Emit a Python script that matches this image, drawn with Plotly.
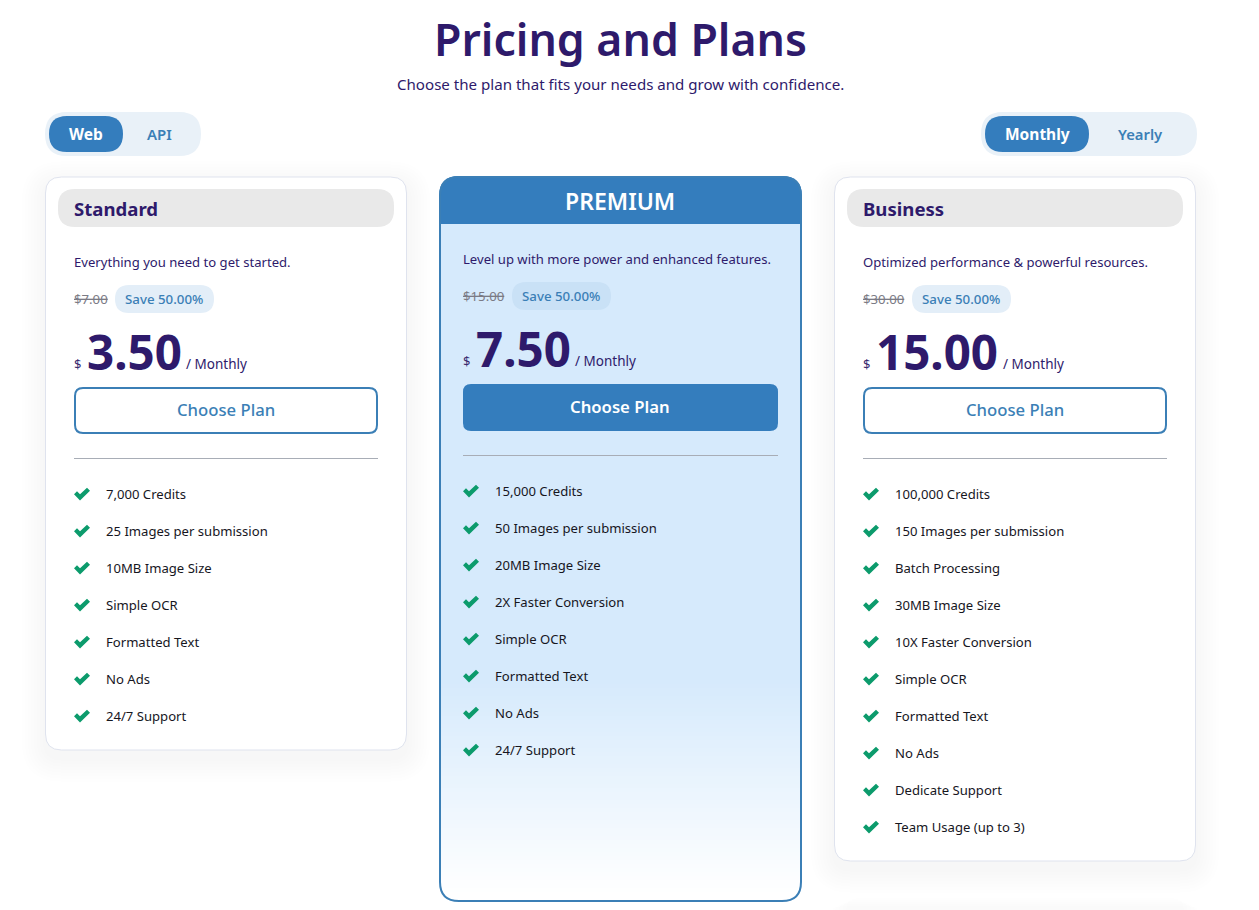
import plotly.graph_objects as go

plan_names = ["Standard", "PREMIUM", "Business"]
taglines = [
    "Everything you need to get started.",
    "Level up with more power and enhanced features.",
    "Optimized performance & powerful resources.",
]
old_prices = ["$7.00", "$15.00", "$30.00"]
prices = ["3.50", "7.50", "15.00"]
save_label = "Save 50.00%"
period_label = "/ Monthly"
button_label = "Choose Plan"
features_standard = ["7,000 Credits", "25 Images per submission", "10MB Image Size", "Simple OCR",
                     "Formatted Text", "No Ads", "24/7 Support"]
features_premium = ["15,000 Credits", "50 Images per submission", "20MB Image Size", "2X Faster Conversion",
                    "Simple OCR", "Formatted Text", "No Ads", "24/7 Support"]
features_business = ["100,000 Credits", "150 Images per submission", "Batch Processing", "30MB Image Size",
                     "10X Faster Conversion", "Simple OCR", "Formatted Text", "No Ads", "Dedicate Support",
                     "Team Usage (up to 3)"]

INK = "#2e1a6b"
BLUE = "#347dbd"
BLUE_TEXT = "#3b7fb6"
FONT = "Noto Sans"

shapes = []
notes = []


def rounded(x0, y0, x1, y1, r):
    return (f"M{x0+r},{y0} L{x1-r},{y0} Q{x1},{y0} {x1},{y0+r} L{x1},{y1-r} Q{x1},{y1} {x1-r},{y1} "
            f"L{x0+r},{y1} Q{x0},{y1} {x0},{y1-r} L{x0},{y0+r} Q{x0},{y0} {x0+r},{y0} Z")


def box(x0, y0, x1, y1, r, fill="rgba(0,0,0,0)", line=None, width=0):
    shapes.append(dict(type="path", path=rounded(x0, y0, x1, y1, r), fillcolor=fill,
                       line=dict(color=line or "rgba(0,0,0,0)", width=width), layer="below"))


def text(x, y, s, size, color=INK, weight=400, anchor="left"):
    notes.append(dict(x=x, y=y, text=s, showarrow=False, xanchor=anchor, yanchor="middle", borderpad=0,
                      borderwidth=0, font=dict(family=FONT, size=size, color=color, weight=weight)))


def shadow(x0, y0, x1, y1, r, alpha=0.002, drop=8):
    for k in range(8, 0, -1):
        g = k * 3
        box(x0 - g, y0 - g + drop, x1 + g, y1 + g + drop, r + g, fill=f"rgba(50,60,90,{alpha})")


def check(x, y):
    # check icon, 16 wide and 13 high, x is the left edge, y the middle
    pts = [(0, 6.2), (3, 3.2), (6, 6.2), (13, -0.2), (16, 2.8), (6, 12.6)]
    p = " L".join(f"{x+a},{y-6+b}" for a, b in pts)
    shapes.append(dict(type="path", path=f"M{p} Z", fillcolor="#0c9b6c", line=dict(width=0), layer="below"))


def plan_body(i, left, right, top, features, pill_fill, primary):
    # top is the y of the tagline row, the rest hangs off it
    text(left, top, taglines[i], 13.1, INK)
    text(left, top + 37, f"<s>{old_prices[i]}</s>", 13.2, "#7b7b85")
    pill_x = left + 41 if len(old_prices[i]) == 5 else left + 49
    pill_w = 99
    box(pill_x, top + 23, pill_x + pill_w, top + 51, 14, fill=pill_fill)
    text(pill_x + pill_w / 2 - 0.5, top + 37, save_label, 13.3, BLUE_TEXT, 500, "center")
    text(left, top + 102, "$", 13, "#3a2c70")
    text(left + 13, top + 89, prices[i], 47.5, INK, 700)
    px_w = {"3.50": 99, "7.50": 99, "15.00": 127}[prices[i]]
    text(left + 13 + px_w, top + 102, period_label, 13.5, INK)
    if primary:
        box(left, top + 125, right, top + 172, 8, fill=BLUE)
        text((left + right) / 2 - 0.5, top + 147.5, button_label, 16.7, "white", 600, "center")
    else:
        box(left + 1, top + 126, right - 1, top + 171, 8, fill="white", line=BLUE_TEXT, width=2)
        text((left + right) / 2 - 0.5, top + 147.5, button_label, 16.7, BLUE_TEXT, 500, "center")
    shapes.append(dict(type="line", x0=left, x1=right, y0=top + 196.5, y1=top + 196.5,
                       line=dict(color="#a8adb6", width=1), layer="below"))
    for n, f in enumerate(features):
        y = top + 232 + n * 37
        check(left, y)
        text(left + 32, y, f, 13.1, "#16161e")


def side_card(i, x0, x1, y1, features):
    shadow(x0, 177, x1, y1, 16)
    box(x0, 177, x1, y1, 16, fill="white", line="#dfe3ee", width=1)
    box(x0 + 12.5, 189, x1 - 12.5, 227, 17, fill="#e9e9e9")
    text(x0 + 28.5, 208, plan_names[i], 18.6, INK, 700)
    plan_body(i, x0 + 28.5, x1 - 28.5, 262, features, "#e3eef8", False)


# top of the page
text(620.5, 38, "Pricing and Plans", 44.6, INK, 600, "center")
text(620.5, 84, "Choose the plan that fits your needs and grow with confidence.", 15.1, INK, 400, "center")

# toggles
box(45, 112, 201, 156, 22, fill="#e9f1f8")
box(49, 116, 123, 152, 18, fill=BLUE)
text(86, 134, "Web", 15.5, "white", 700, "center")
text(159.5, 134, "API", 15, BLUE_TEXT, 600, "center")
box(981, 112, 1197, 156, 22, fill="#e9f1f8")
box(985, 116, 1089, 152, 18, fill=BLUE)
text(1037, 134, "Monthly", 15.5, "white", 700, "center")
text(1140.5, 134, "Yearly", 14.8, BLUE_TEXT, 600, "center")

# left and right cards
side_card(0, 45.5, 406.5, 750, features_standard)
side_card(2, 834.5, 1195.5, 861, features_business)
for k in range(1, 6):
    box(850 - k * 4, 896 + k * 2, 1180 + k * 4, 930, 10, fill="rgba(50,60,90,0.003)")

# middle card: solid blue body, fades to white towards the bottom
BODY = (0xd6, 0xea, 0xfc)
box(440, 177, 801, 901, 20, fill="white")
box(440, 177, 801, 720, 20, fill=f"rgb{BODY}")
fade_top, fade_bottom, step = 680, 892, 4
for y in range(fade_top, fade_bottom, step):
    t = (y - fade_top) / (fade_bottom - fade_top)
    rgb = tuple(round(a + (255 - a) * t) for a in BODY)
    shapes.append(dict(type="rect", x0=440, x1=801, y0=y, y1=y + step, line=dict(width=0),
                       fillcolor=f"rgb{rgb}", layer="below"))
r = 20
head = f"M439,224 L439,{176+r} Q439,176 {439+r},176 L{802-r},176 Q802,176 802,{176+r} L802,224 Z"
shapes.append(dict(type="path", path=head, fillcolor=BLUE, line=dict(width=0), layer="below"))
box(440, 177, 801, 901, 19, line="#3b7fb6", width=2)
text(620, 201, plan_names[1], 23, "white", 600, "center")
plan_body(1, 463, 778, 259, features_premium, "#c9e1f6", True)

fig = go.Figure()
fig.update_layout(
    width=1259, height=910, margin=dict(l=0, r=0, t=0, b=0), showlegend=False,
    paper_bgcolor="white", plot_bgcolor="white",
    xaxis=dict(range=[0, 1259], visible=False, fixedrange=True),
    yaxis=dict(range=[910, 0], visible=False, fixedrange=True),
    shapes=shapes, annotations=notes,
)
fig.write_html("out.html", config={"displayModeBar": False},
               post_script="document.body.style.margin='0';document.body.style.overflow='hidden';")
